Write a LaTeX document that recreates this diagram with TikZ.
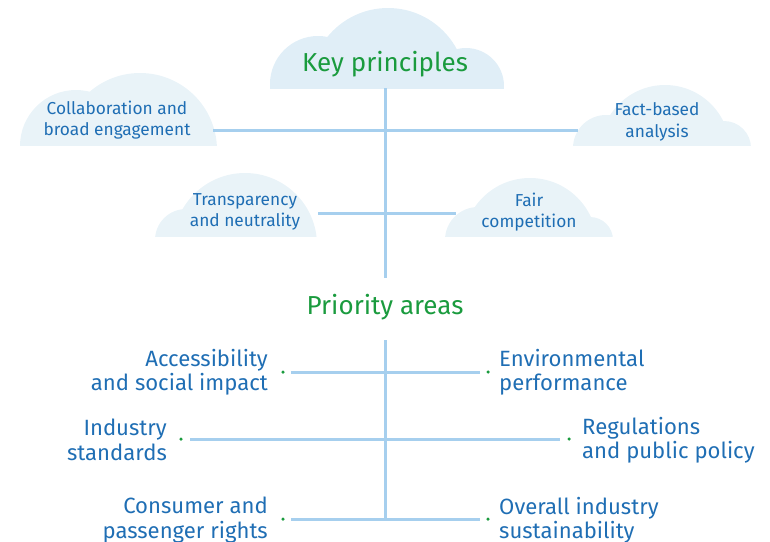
\documentclass[tikz,border=0pt]{standalone}
\usepackage{fontspec}
\setmainfont{Fira Sans}
\definecolor{txtblue}{HTML}{1F6EB4}
\definecolor{kgreen}{HTML}{1A9B3E}
\definecolor{cloudA}{HTML}{E0EEF7}
\definecolor{cloudB}{HTML}{E9F3F8}
\definecolor{lineblue}{HTML}{A6CFEE}
\begin{document}
\begin{tikzpicture}[x=1pt,y=-1pt,
  conn/.style={draw=lineblue,line width=3pt},
  ctext/.style={text=txtblue,align=center,inner sep=0pt,font=\fontsize{17.3}{21.5}\selectfont},
  ptext/.style={text=txtblue,inner sep=0pt,font=\fontsize{22.1}{24.5}\selectfont},
  htext/.style={text=kgreen,inner sep=0pt},
  gdot/.style={circle,fill=kgreen,inner sep=0pt,minimum size=3.5pt}]
\useasboundingbox (0,0) rectangle (770,541);
% clouds
\begin{scope}
  \clip (0,0) rectangle (770,88);
  \fill[cloudA] (388,86) circle (78pt);
  \fill[cloudA] (318,84) circle (48pt);
  \fill[cloudA] (466,86) circle (38pt);
\end{scope}
\begin{scope}
  \clip (0,0) rectangle (770,145);
  \fill[cloudB] (140,150) circle (77pt);
  \fill[cloudB] (76,146) circle (56pt);
  \fill[cloudB] (665,150) circle (65pt);
  \fill[cloudB] (606,148) circle (33pt);
  \fill[cloudB] (724,148) circle (27pt);
\end{scope}
\begin{scope}
  \clip (0,150) rectangle (770,236);
  \fill[cloudB] (245,245) circle (72pt);
  \fill[cloudB] (186,240) circle (31pt);
  \fill[cloudB] (530,245) circle (67pt);
  \fill[cloudB] (478,240) circle (33pt);
  \fill[cloudB] (590,240) circle (23pt);
\end{scope}
% key principles
\node[htext,font=\fontsize{26}{30}\selectfont] (kp) at (385,64) {Key principles};
\coordinate (kpb) at (385,88);
\coordinate (kpe) at (385,278);
\node[ctext] (collab) at (117,120) {Collaboration and\\broad engagement};
\node[ctext] (fact) at (657,122) {Fact-based\\analysis};
\node[ctext] (transp) at (245,212) {Transparency\\and neutrality};
\node[ctext] (fair) at (529,212) {Fair\\competition};
\coordinate (collabR) at (213,130);
\coordinate (factL) at (578,130);
\coordinate (transpR) at (318,213);
\coordinate (fairL) at (456,213);
\draw[conn] (kpb) -- (kpe);
\draw[conn] (collabR) -- (factL);
\draw[conn] (transpR) -- (fairL);
% priority areas
\node[htext,font=\fontsize{26}{30}\selectfont] (pa) at (385,307) {Priority areas};
\coordinate (pat) at (385,340);
\coordinate (pab) at (385,519);
\draw[conn] (pat) -- (pab);
\node[gdot] (d1) at (283,372) {};
\node[gdot] (d2) at (488,372) {};
\node[gdot] (d3) at (181,439) {};
\node[gdot] (d4) at (569,439) {};
\node[gdot] (d5) at (283,519) {};
\node[gdot] (d6) at (488,519) {};
\draw[conn,shorten <=6pt,shorten >=6pt] (d1) -- (d2);
\draw[conn,shorten <=7pt,shorten >=7pt] (d3) -- (d4);
\draw[conn,shorten <=6pt,shorten >=6pt] (d5) -- (d6);
\node[ptext,align=right,anchor=east] (acc) at (268,372) {Accessibility\\and social impact};
\node[ptext,align=left,anchor=west] (env) at (499,372) {Environmental\\performance};
\node[ptext,align=right,anchor=east] (ind) at (167,440) {Industry\\standards};
\node[ptext,align=left,anchor=west] (reg) at (582,440) {Regulations\\and public policy};
\node[ptext,align=right,anchor=east] (cons) at (268,520) {Consumer and\\passenger rights};
\node[ptext,align=left,anchor=west] (over) at (499,520) {Overall industry\\sustainability};
\end{tikzpicture}
\end{document}
